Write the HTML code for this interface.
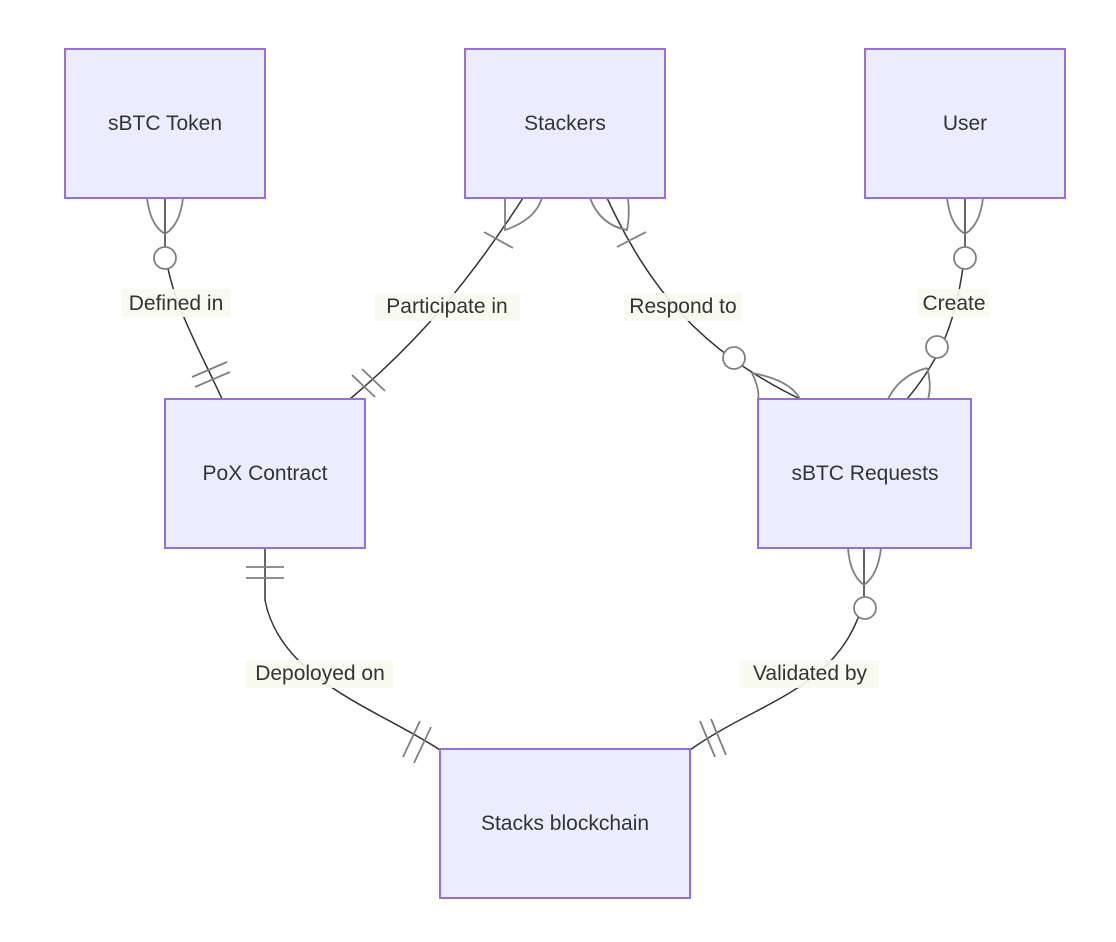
<!DOCTYPE html>
<html><head><meta charset="utf-8"><style>
html,body{margin:0;padding:0;background:#fff}
svg{display:block}
text{font-family:"Liberation Sans",sans-serif;font-size:21px;fill:#333}
.b{fill:#ececff;stroke:#9370db;stroke-width:2}
.e{fill:none;stroke:#333;stroke-width:1.5}
.m{fill:none;stroke:#808080;stroke-width:1.8}
.c{fill:#fff;stroke:#808080;stroke-width:1.8}
.lb{fill:#f8fbee;opacity:0.9}
</style></head><body>
<svg width="1116" height="942" viewBox="0 0 1116 942">
<!-- edges -->
<path class="e" d="M165,198 L165,250 C170,300 200,350 222,399"/>
<path class="e" d="M523,198 C470,280 420,340 350,399"/>
<path class="e" d="M607,198 C650,290 700,350 800,399"/>
<path class="e" d="M965,198 L965,250 C958,320 940,360 907,399"/>
<path class="e" d="M265,548 L265,600 C280,680 380,710 440,750"/>
<path class="e" d="M864,548 L864,600 C840,690 760,700 690,750"/>

<!-- markers edge1 -->
<path class="m" d="M147,198 Q150,225 165,234 Q180,225 183,198"/>
<circle class="c" cx="165" cy="258" r="11"/>
<path class="m" d="M192,377 L227,362 M195,387 L230,372"/>
<!-- edge2 -->
<path class="m" d="M505,198 Q505,225 505,230 Q535,220 542,198"/>
<path class="m" d="M484,232 L513,248"/>
<path class="m" d="M352,375 L375,397 M362,369 L385,391"/>
<!-- edge3 -->
<path class="m" d="M590,198 Q600,225 627,230 Q630,215 628,198"/>
<path class="m" d="M617,247 L646,232"/>
<circle class="c" cx="734" cy="358" r="11"/>
<path class="m" d="M752,373 Q760,390 758,399 M752,373 Q790,380 800,399"/>
<!-- edge4 -->
<path class="m" d="M947,198 Q950,225 965,234 Q980,225 983,198"/>
<circle class="c" cx="965" cy="258" r="11"/>
<circle class="c" cx="937" cy="347" r="11"/>
<path class="m" d="M927,368 Q900,375 888,399 M927,368 Q932,385 928,399"/>
<!-- edge5 -->
<path class="m" d="M246,567 L284,567 M246,578 L284,578"/>
<path class="m" d="M403,757 L420,721 M414,763 L431,727"/>
<!-- edge6 -->
<path class="m" d="M848,548 Q850,575 864,585 Q878,575 881,548"/>
<circle class="c" cx="865" cy="608" r="11"/>
<path class="m" d="M700,721 L715,757 M711,719 L726,755"/>

<!-- labels -->
<rect class="lb" x="121" y="289" width="110" height="28"/>
<text x="176" y="310" text-anchor="middle">Defined in</text>
<rect class="lb" x="375" y="293" width="145" height="28"/>
<text x="447" y="313" text-anchor="middle">Participate in</text>
<rect class="lb" x="624" y="293" width="118" height="28"/>
<text x="683" y="313" text-anchor="middle">Respond to</text>
<rect class="lb" x="918" y="289" width="72" height="28"/>
<text x="954" y="310" text-anchor="middle">Create</text>
<rect class="lb" x="246" y="660" width="147" height="28"/>
<text x="320" y="680" text-anchor="middle">Depoloyed on</text>
<rect class="lb" x="739" y="660" width="140" height="28"/>
<text x="810" y="680" text-anchor="middle">Validated by</text>

<!-- boxes -->
<rect class="b" x="65" y="49" width="200" height="149"/>
<text x="165" y="130" text-anchor="middle">sBTC Token</text>
<rect class="b" x="465" y="49" width="200" height="149"/>
<text x="565" y="130" text-anchor="middle">Stackers</text>
<rect class="b" x="865" y="49" width="200" height="149"/>
<text x="965" y="130" text-anchor="middle">User</text>
<rect class="b" x="165" y="399" width="200" height="149"/>
<text x="265" y="480" text-anchor="middle">PoX Contract</text>
<rect class="b" x="758" y="399" width="213" height="149"/>
<text x="865" y="480" text-anchor="middle">sBTC Requests</text>
<rect class="b" x="440" y="749" width="250" height="149"/>
<text x="565" y="830" text-anchor="middle">Stacks blockchain</text>
</svg>
</body></html>
